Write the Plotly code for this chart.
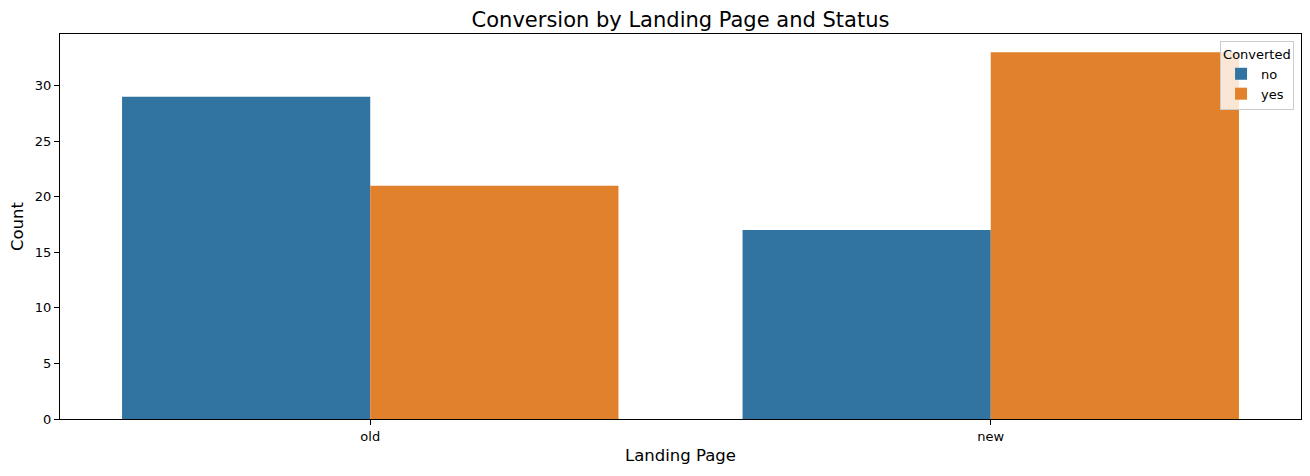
import plotly.graph_objects as go

categories = ["old", "new"]
no_counts = [29, 17]
yes_counts = [21, 33]
y_ticks = [0, 5, 10, 15, 20, 25, 30]

fig = go.Figure()
fig.add_trace(go.Bar(x=categories, y=no_counts, name="no", marker=dict(color="#3274a1", line=dict(width=0))))
fig.add_trace(go.Bar(x=categories, y=yes_counts, name="yes", marker=dict(color="#e1812c", line=dict(width=0))))

axis_common = dict(showline=True, linecolor="black", linewidth=1.1, mirror=True,
                   ticks="outside", ticklen=5, tickwidth=1.1, tickcolor="black", showgrid=False, zeroline=False,
                   tickfont=dict(size=13, color="black"))

# the page places the figure 8px from the top-left corner of the window
fig.update_layout(
    width=1297, height=458,
    paper_bgcolor="white", plot_bgcolor="white",
    font=dict(family="DejaVu Sans", color="black"),
    barmode="group", bargap=0.2, bargroupgap=0,
    margin=dict(l=52, r=4, t=26, b=47),
    title=dict(text="Conversion by Landing Page and Status", x=0.5, xanchor="center",
               xref="paper", y=1 - 12/458, yanchor="middle", font=dict(size=21)),
    xaxis=dict(title=dict(text="Landing Page", font=dict(size=16.5), standoff=6), range=[-0.5, 1.5], **axis_common),
    yaxis=dict(title=dict(text="Count", font=dict(size=16.5), standoff=8), range=[0, 34.65], tickvals=y_ticks, **axis_common),
    legend=dict(title=dict(text="Converted", font=dict(size=13)), font=dict(size=13),
                x=0.9944, y=0.982, xanchor="right", yanchor="top",
                bgcolor="rgba(255,255,255,0.8)", bordercolor="#cccccc", borderwidth=1),
)

fig.write_html("out.html")
